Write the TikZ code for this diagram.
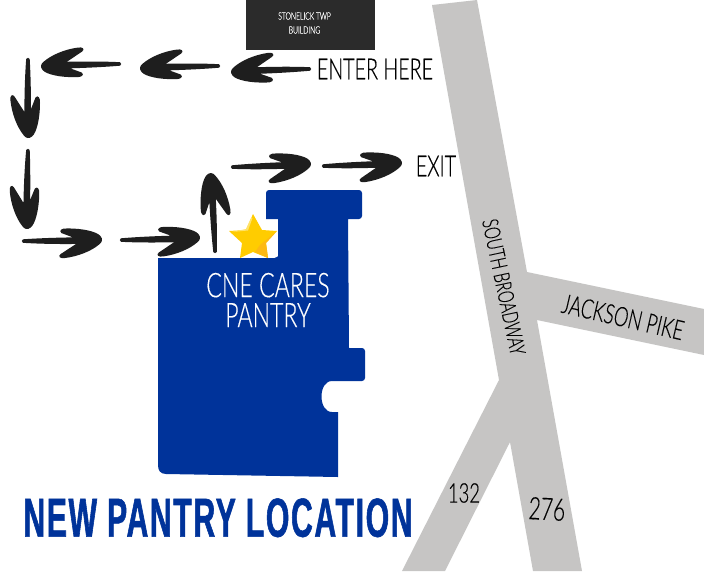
\documentclass[tikz,border=0pt]{standalone}
\usepackage{fontspec}
\newfontfamily\handfont[FakeStretch=0.68,FakeBold=0.3]{Lato Light}
\newfontfamily\titlefont[FakeStretch=0.548,FakeBold=1,LetterSpace=3]{Liberation Sans Bold}
\definecolor{pantryblue}{HTML}{00339A}
\definecolor{roadgrey}{HTML}{C6C5C4}
\definecolor{inkblack}{HTML}{1E1E1E}
\definecolor{boxblack}{HTML}{2B2B2B}
\definecolor{staryellow}{HTML}{FFCC00}
\definecolor{starshade}{HTML}{FDB913}
\definecolor{starlight}{HTML}{FFE268}
\tikzset{
  x=1pt,y=-1pt,
  handlabel/.style={inner sep=0pt,align=center,text=black,font=\handfont},
  brusharrow/.pic={
    \fill[inkblack] (0,-1.7) .. controls (15,-2.6) and (35,-3) .. (50,-3)
      -- (38.5,-7.5)
      .. controls (35.5,-10) and (39,-12.5) .. (44,-12)
      .. controls (60,-12) and (74,-8.5) .. (77.5,-4)
      .. controls (80,-1) and (79.5,2) .. (76,4.5)
      .. controls (68,11) and (55,16) .. (42,17.5)
      .. controls (36.5,18.5) and (34.5,15.5) .. (37.5,13.5)
      -- (53,3.6)
      .. controls (35,3.6) and (15,3) .. (0,1.8)
      .. controls (-1.6,0.9) and (-1.6,-0.9) .. (0,-1.7) -- cycle;
  }
}
\begin{document}
\begin{tikzpicture}
\useasboundingbox (0,0) rectangle (704,571);
\fill[white] (0,0) rectangle (704,571);
% roads
\fill[roadgrey] (432,5) -- (477,0) -- (527,272) -- (704,309) -- (704,355) -- (537,320)
  -- (582,571) -- (533,571) -- (510,442) -- (445,571) -- (402,571) -- (499,380) -- cycle;
% building
\fill[pantryblue,rounded corners=1.5pt] (158,258) -- (276,258) [rounded corners=0pt] -- (278,256) -- (278,219) -- (266,219)
  [rounded corners=3pt] -- (266,190) -- (362,190) -- (362,219) [rounded corners=0pt] -- (348,219) -- (349,348)
  [rounded corners=3pt] -- (365,348) -- (365,381) [rounded corners=0pt] -- (332,381)
  .. controls (318,381) and (318,412) .. (332,412) -- (338,412) -- (338,477) -- (166,474)
  .. controls (160,474) and (158,470) .. (158,465) -- cycle;
% star
\fill[staryellow] (253,214) -- (262,230) -- (277,231) -- (266,243) -- (268,258) -- (253,252) -- (240,258) -- (242,243) -- (229,231) -- (246,230) -- cycle;
\fill[starshade] (276,232) -- (266,243) -- (268,258) -- (255,252) -- (260,245) -- cycle;
\fill[starlight] (251,218) -- (252.5,218) -- (248,230.5) -- (232,232) -- (246,229) -- cycle;
% box
\fill[boxblack] (246,0) rectangle (375,50);
\node[handlabel,text=white,font=\handfont\fontsize{10}{14}\selectfont] (township) at (304.5,23) {STONELICK TWP\\BUILDING};
% arrows
\pic[rotate=181.5] at (120,64) {brusharrow};
\pic[rotate=181.5] at (219,66) {brusharrow};
\pic[rotate=182] at (310,69) {brusharrow};
\pic[rotate=-90] at (28,59) {brusharrow};
\pic[rotate=-91] at (28,150) {brusharrow};
\pic[rotate=0.7] at (23,241) {brusharrow};
\pic[rotate=1.5] at (121,240) {brusharrow};
\pic[rotate=93] at (215,252) {brusharrow};
\pic[rotate=2] at (232,167) {brusharrow};
\pic[rotate=2] at (323,166) {brusharrow};
% labels
\node[handlabel,font=\handfont\fontsize{29}{30}\selectfont] (enter) at (375,69) {ENTER HERE};
\node[handlabel,font=\handfont\fontsize{29}{30}\selectfont] (exit) at (436,166) {EXIT};
\node[handlabel,text=white,font=\handfont\fontsize{34}{30}\selectfont] (pantry) at (268,300) {CNE CARES\\PANTRY};
\node[handlabel,font=\handfont\fontsize{22}{24}\selectfont,rotate=-78] (broadway) at (504,287) {SOUTH BROADWAY};
\node[handlabel,font=\handfont\fontsize{27}{26}\selectfont,rotate=-13] (jackson) at (623,317) {JACKSON PIKE};
\node[handlabel,font=\handfont\fontsize{27}{26}\selectfont] (r132) at (464,493) {132};
\node[handlabel,font=\handfont\fontsize{31}{26}\selectfont,rotate=-3] (r276) at (547,509) {276};
\node[inner sep=0pt,anchor=base,text=pantryblue,font=\titlefont\fontsize{55}{56}\selectfont] (title) at (218,536.7) {NEW PANTRY LOCATION};
\end{tikzpicture}
\end{document}
